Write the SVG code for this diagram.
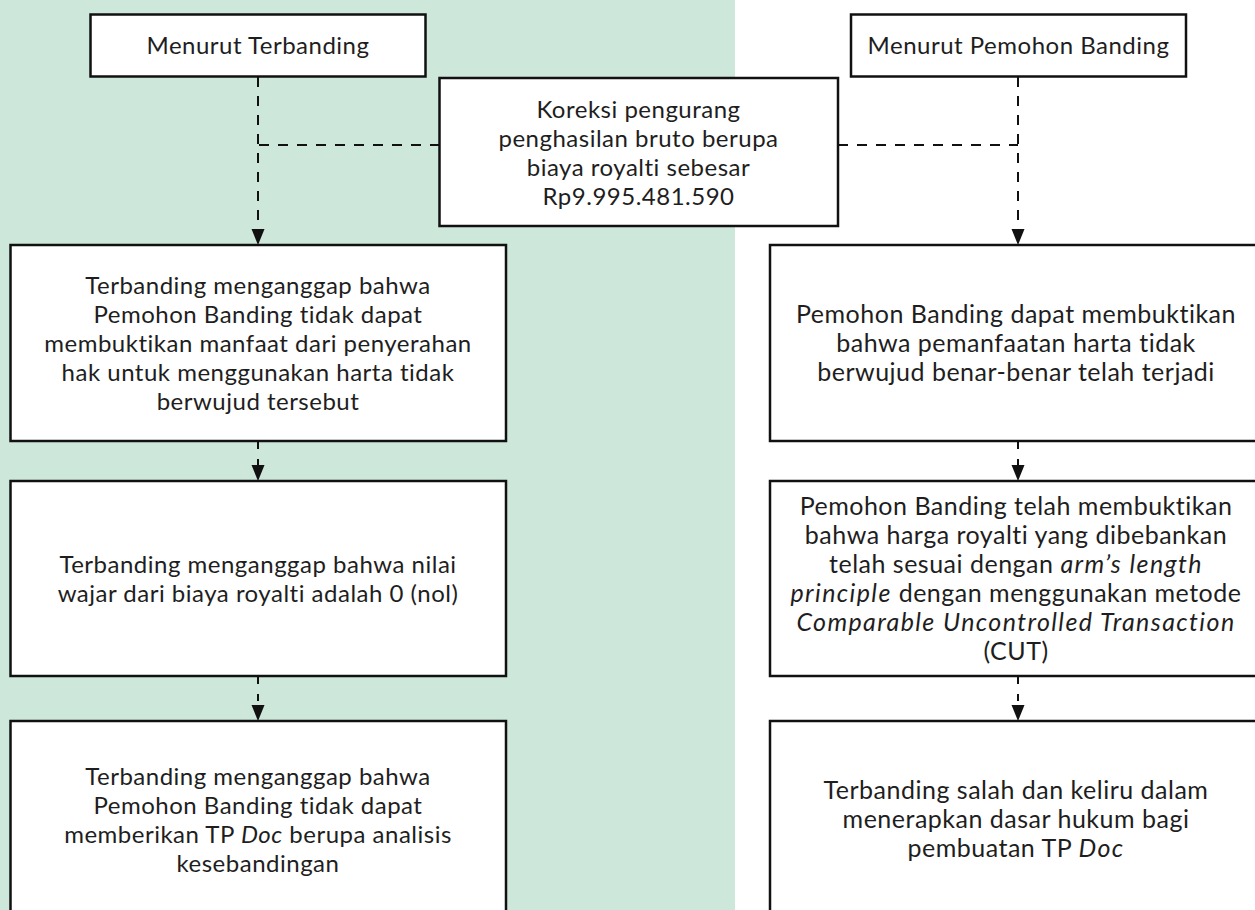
<svg xmlns="http://www.w3.org/2000/svg" width="1255" height="910" viewBox="0 0 1255 910">
  <style>
    .box { fill: #ffffff; stroke: #111111; stroke-width: 2.5; }
    .t { font-family: Lato, "Noto Sans", sans-serif; font-size: 24px; letter-spacing: 0.5px; fill: #1e1e1e; text-anchor: middle; }
    .r { font-size: 25px; letter-spacing: 0.5px; }
    .i { font-style: italic; }
    .ri { font-style: italic; letter-spacing: 1.4px; }
    .dash { fill: none; stroke: #111111; stroke-width: 2; stroke-dasharray: 10 9; }
    .short { fill: none; stroke: #111111; stroke-width: 2; stroke-dasharray: 7 10; }
    .head { fill: #111111; }
  </style>
  <rect x="0" y="0" width="735" height="910" fill="#cee7db"/>

  <g id="connectors">
    <path class="dash" d="M258 77 V230"/>
    <path class="dash" d="M440 145 H258"/>
    <polygon class="head" points="251.5,229 264.5,229 258,245"/>
    <path class="dash" d="M1018 77 V230"/>
    <path class="dash" d="M838 145 H1018"/>
    <polygon class="head" points="1011.5,229 1024.5,229 1018,245"/>
    <path class="short" d="M258 442 V466"/>
    <polygon class="head" points="251.5,465 264.5,465 258,481"/>
    <path class="short" d="M258 677 V706"/>
    <polygon class="head" points="251.5,705 264.5,705 258,721"/>
    <path class="short" d="M1018 442 V466"/>
    <polygon class="head" points="1011.5,465 1024.5,465 1018,481"/>
    <path class="short" d="M1018 677 V706"/>
    <polygon class="head" points="1011.5,705 1024.5,705 1018,721"/>
  </g>

  <g id="header-terbanding">
    <rect class="box" x="90.5" y="14.5" width="335" height="62"/>
    <text class="t" x="258" y="54">Menurut Terbanding</text>
  </g>
  <g id="header-pemohon">
    <rect class="box" x="851" y="14.5" width="335" height="62"/>
    <text class="t" x="1018.5" y="54">Menurut Pemohon Banding</text>
  </g>
  <g id="koreksi">
    <rect class="box" x="439.5" y="78" width="398.5" height="148"/>
    <text class="t" x="638.5" y="117.5">Koreksi pengurang</text>
    <text class="t" x="638.5" y="146.5">penghasilan bruto berupa</text>
    <text class="t" x="638.5" y="175.5">biaya royalti sebesar</text>
    <text class="t" x="638.5" y="204.5">Rp9.995.481.590</text>
  </g>

  <g id="terbanding-1">
    <rect class="box" x="10.5" y="245" width="495.5" height="196"/>
    <text class="t" x="258" y="294">Terbanding menganggap bahwa</text>
    <text class="t" x="258" y="323">Pemohon Banding tidak dapat</text>
    <text class="t" x="258" y="352">membuktikan manfaat dari penyerahan</text>
    <text class="t" x="258" y="381">hak untuk menggunakan harta tidak</text>
    <text class="t" x="258" y="410">berwujud tersebut</text>
  </g>
  <g id="terbanding-2">
    <rect class="box" x="10.5" y="481" width="495.5" height="195"/>
    <text class="t" x="258" y="573">Terbanding menganggap bahwa nilai</text>
    <text class="t" x="258" y="602">wajar dari biaya royalti adalah 0 (nol)</text>
  </g>
  <g id="terbanding-3">
    <rect class="box" x="10.5" y="721" width="495.5" height="200"/>
    <text class="t" x="258" y="784.5">Terbanding menganggap bahwa</text>
    <text class="t" x="258" y="813.5">Pemohon Banding tidak dapat</text>
    <text class="t" x="258" y="842.5">memberikan TP <tspan class="i">Doc</tspan> berupa analisis</text>
    <text class="t" x="258" y="871.5">kesebandingan</text>
  </g>

  <g id="pemohon-1">
    <rect class="box" x="770" y="245" width="500" height="196"/>
    <text class="t r" x="1016" y="323">Pemohon Banding dapat membuktikan</text>
    <text class="t r" x="1016" y="352">bahwa pemanfaatan harta tidak</text>
    <text class="t r" x="1016" y="381">berwujud benar-benar telah terjadi</text>
  </g>
  <g id="pemohon-2">
    <rect class="box" x="770" y="481" width="500" height="195"/>
    <text class="t r" x="1016" y="515">Pemohon Banding telah membuktikan</text>
    <text class="t r" x="1016" y="544">bahwa harga royalti yang dibebankan</text>
    <text class="t r" x="1016" y="573">telah sesuai dengan <tspan class="ri">arm’s length</tspan></text>
    <text class="t r" x="1016" y="602"><tspan class="ri">principle</tspan> dengan menggunakan metode</text>
    <text class="t r" x="1016" y="631"><tspan class="ri">Comparable Uncontrolled Transaction</tspan></text>
    <text class="t r" x="1016" y="660">(CUT)</text>
  </g>
  <g id="pemohon-3">
    <rect class="box" x="770" y="721" width="500" height="200"/>
    <text class="t r" x="1016" y="799">Terbanding salah dan keliru dalam</text>
    <text class="t r" x="1016" y="828">menerapkan dasar hukum bagi</text>
    <text class="t r" x="1016" y="857">pembuatan TP <tspan class="ri">Doc</tspan></text>
  </g>
</svg>
